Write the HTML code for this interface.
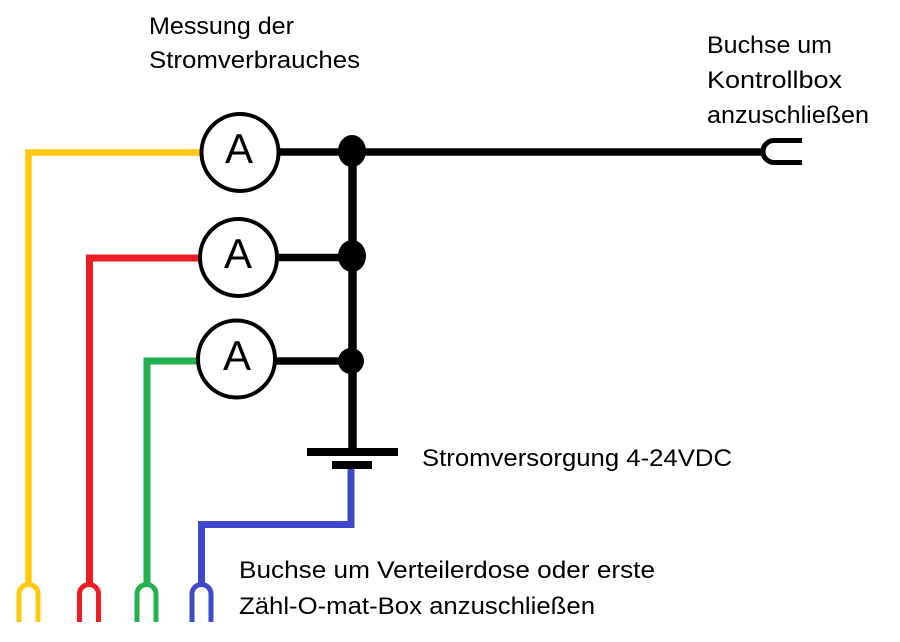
<!DOCTYPE html>
<html>
<head>
<meta charset="utf-8">
<style>
html,body{margin:0;padding:0;background:#fff;}
svg{display:block;}
text{font-family:"Liberation Sans","DejaVu Sans",sans-serif;fill:#000;}
</style>
</head>
<body>
<svg width="900" height="642" viewBox="0 0 900 642" xmlns="http://www.w3.org/2000/svg">
<rect width="900" height="642" fill="#fff"/>

<!-- colored wires -->
<g fill="none" stroke-linejoin="miter" stroke-linecap="butt">
  <path d="M200 152.5 H28.5 V584" stroke="#ffc90e" stroke-width="6.5"/>
  <path d="M199 258 H89.5 V584" stroke="#ed1c24" stroke-width="7"/>
  <path d="M197 361 H147 V584" stroke="#22b14c" stroke-width="7"/>
  <path d="M351 469 V524.5 H201.5 V584" stroke="#3f48cc" stroke-width="7"/>
</g>

<!-- bottom U connectors -->
<g fill="none" stroke-width="5">
  <path d="M19 622 V594 A9.5 9.5 0 0 1 38 594 V622" stroke="#ffc90e"/>
  <path d="M79.5 622 V594 A9.5 9.5 0 0 1 98.5 594 V622" stroke="#ed1c24"/>
  <path d="M137 622 V594 A9.5 9.5 0 0 1 156 594 V622" stroke="#22b14c"/>
  <path d="M192 622 V594 A9.5 9.5 0 0 1 211 594 V622" stroke="#3f48cc"/>
</g>

<!-- black wires -->
<g fill="none" stroke="#000">
  <path d="M278 152 H764" stroke-width="7.5"/>
  <path d="M277 257.5 H352" stroke-width="7.5"/>
  <path d="M275 361 H352" stroke-width="7.5"/>
  <path d="M352.5 150 V449" stroke-width="8.5"/>
  <!-- right connector -->
  <path d="M802 140.5 H774 A11 11 0 0 0 774 162.5 H802" stroke-width="5"/>
</g>

<!-- junction dots -->
<ellipse cx="352" cy="151" rx="14" ry="16" fill="#000"/>
<ellipse cx="352" cy="256" rx="14" ry="16" fill="#000"/>
<ellipse cx="351" cy="361" rx="13" ry="13" fill="#000"/>

<!-- battery -->
<rect x="307" y="448" width="91" height="8" fill="#000"/>
<rect x="332" y="461" width="40" height="8" fill="#000"/>

<!-- ammeters -->
<g fill="#fff" stroke="#000" stroke-width="4">
  <circle cx="240" cy="152.5" r="38.5"/>
  <circle cx="238.5" cy="257.5" r="38.5"/>
  <circle cx="236.5" cy="359" r="38.5"/>
</g>
<g font-size="42" text-anchor="middle">
  <text x="239" y="163">A</text>
  <text x="238" y="268">A</text>
  <text x="237" y="370">A</text>
</g>

<!-- labels -->
<g font-size="24">
  <text x="149" y="34" textLength="145" lengthAdjust="spacingAndGlyphs">Messung der</text>
  <text x="149" y="68" textLength="211" lengthAdjust="spacingAndGlyphs">Stromverbrauches</text>
  <text x="707" y="53" textLength="125" lengthAdjust="spacingAndGlyphs">Buchse um</text>
  <text x="707" y="88" textLength="135" lengthAdjust="spacingAndGlyphs">Kontrollbox</text>
  <text x="707" y="123" textLength="162" lengthAdjust="spacingAndGlyphs">anzuschließen</text>
  <text x="422" y="466" textLength="310" lengthAdjust="spacingAndGlyphs">Stromversorgung 4-24VDC</text>
  <text x="239" y="578" textLength="416" lengthAdjust="spacingAndGlyphs">Buchse um Verteilerdose oder erste</text>
  <text x="239" y="614" textLength="356" lengthAdjust="spacingAndGlyphs">Zähl-O-mat-Box anzuschließen</text>
</g>
</svg>
</body>
</html>
